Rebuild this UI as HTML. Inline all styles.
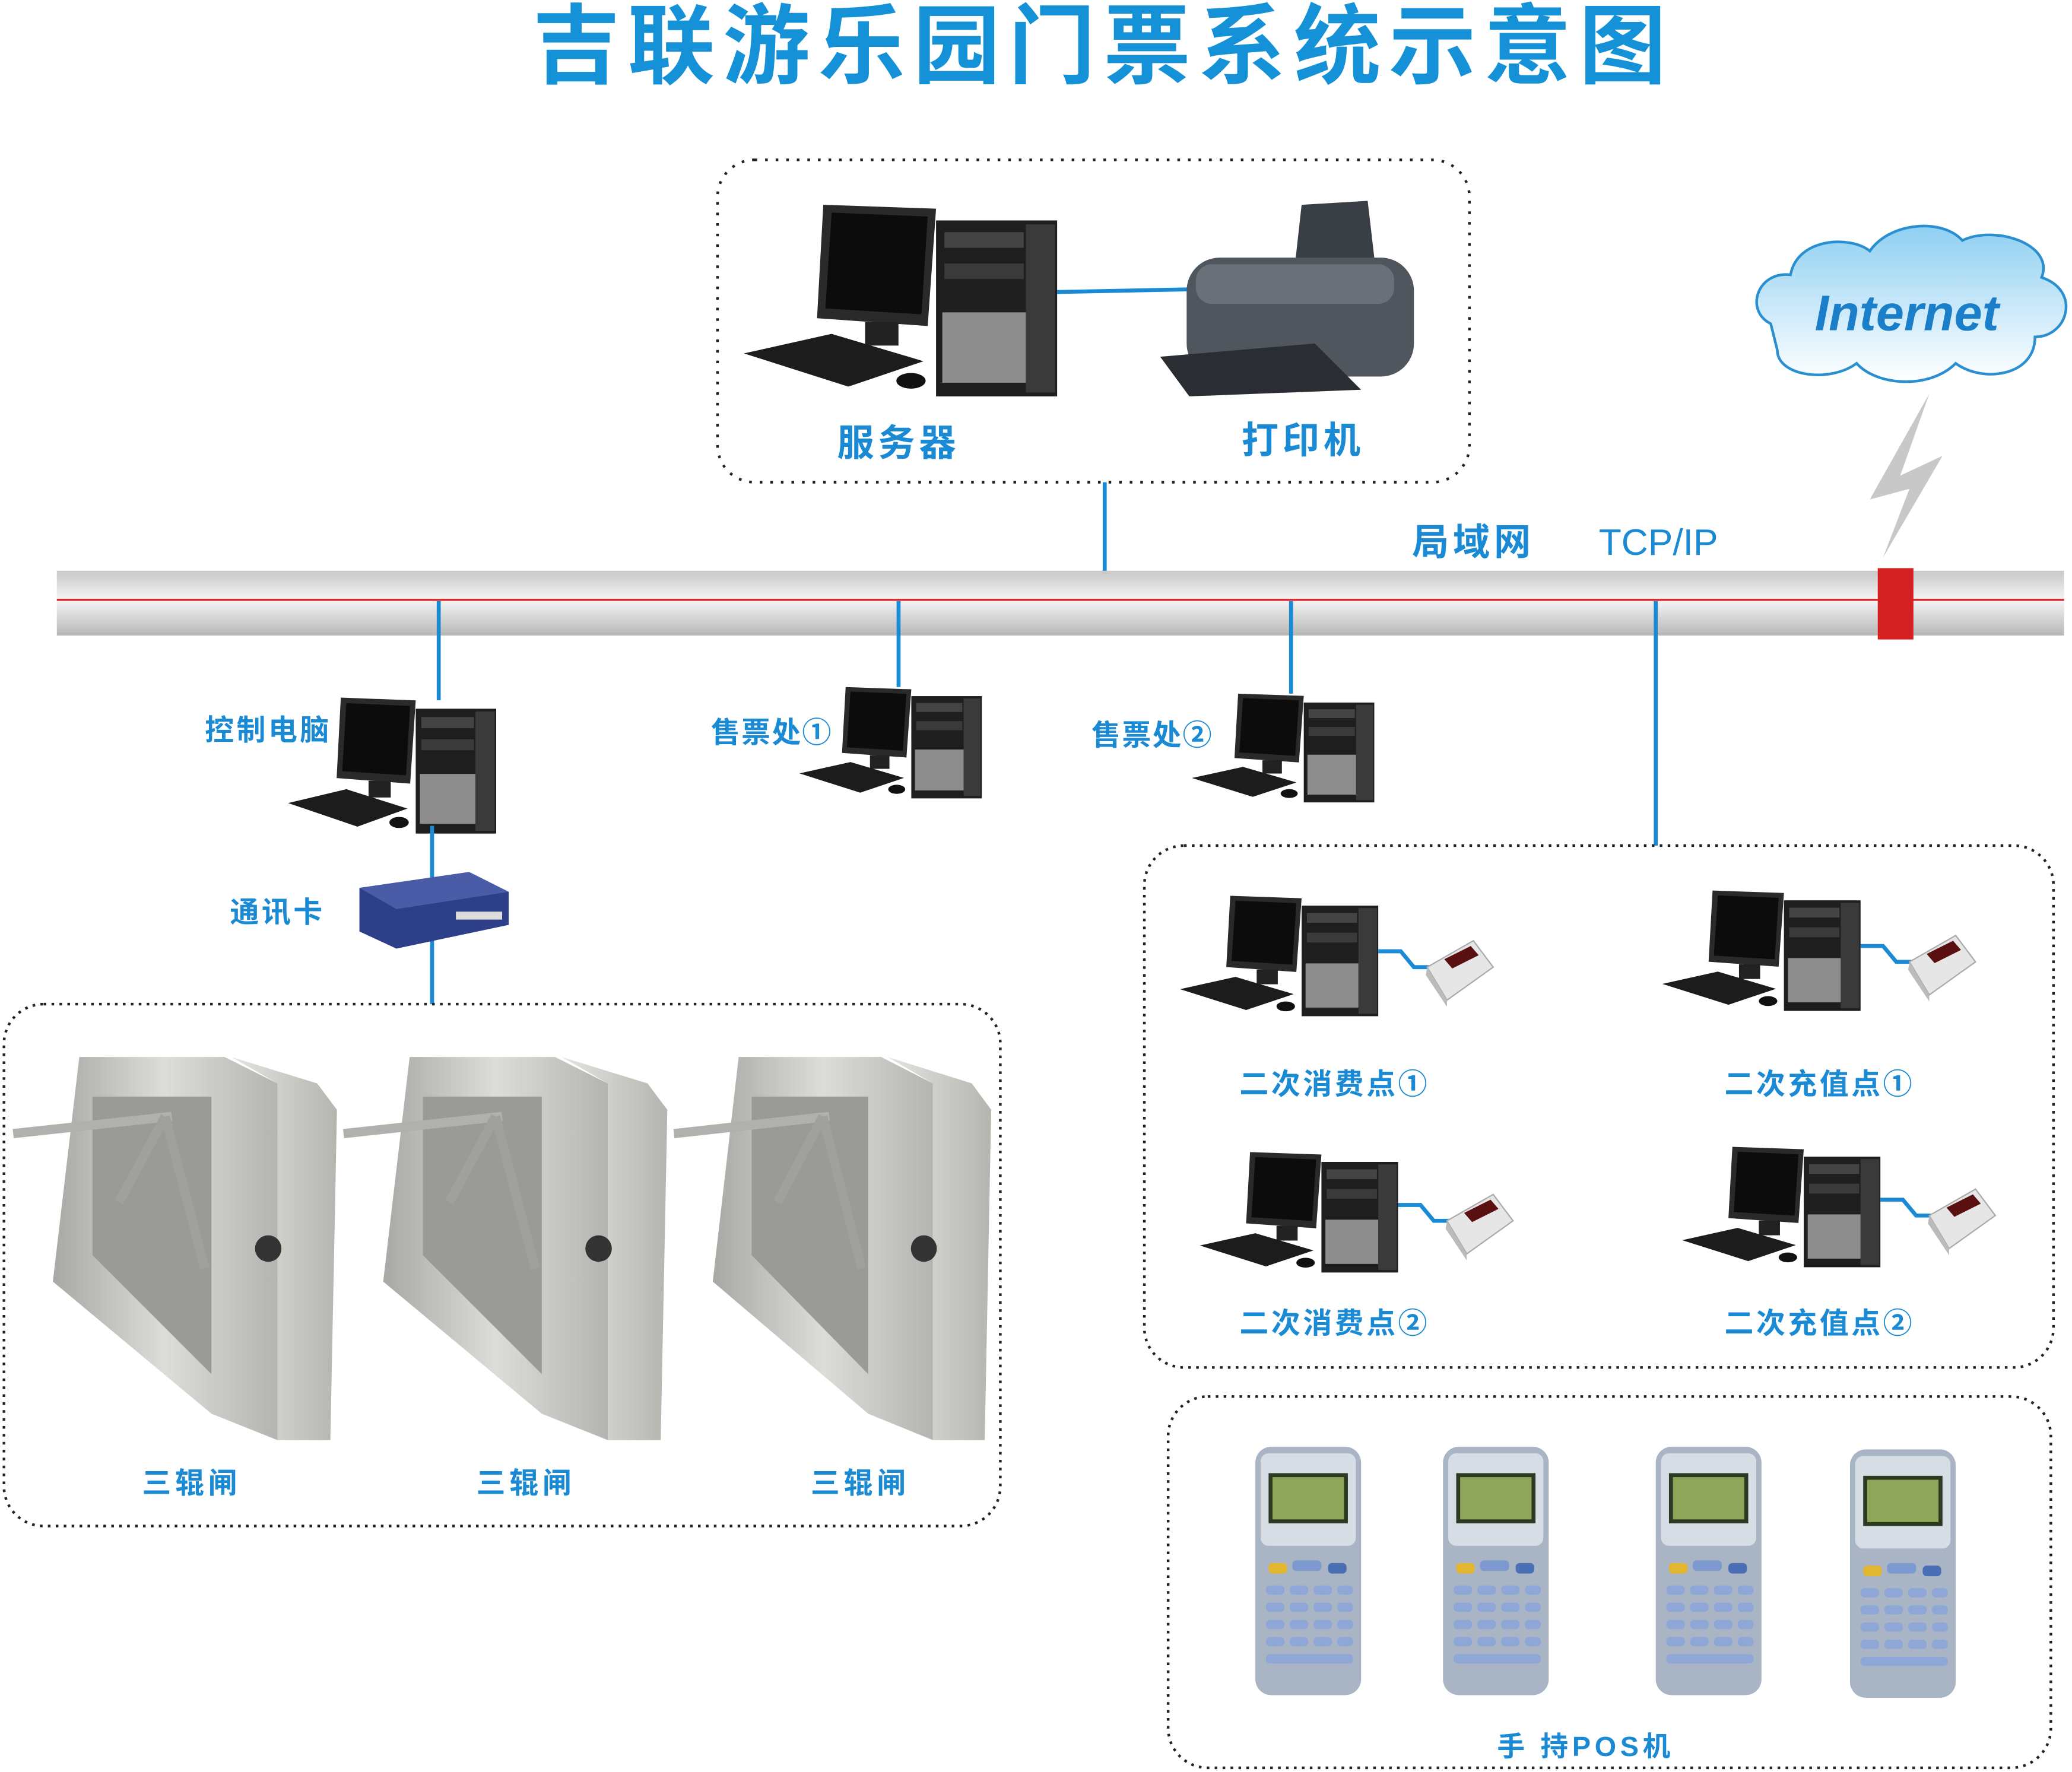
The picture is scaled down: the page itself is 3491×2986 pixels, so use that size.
<!DOCTYPE html>
<html><head><meta charset="utf-8"><style>
html,body{margin:0;padding:0;background:#fff}
svg{display:block}
text{font-family:"Liberation Sans","Noto Sans CJK SC",sans-serif;font-weight:bold;fill:#1a8ad4}
</style></head><body>
<svg width="3491" height="2986" viewBox="0 0 3491 2986" xmlns="http://www.w3.org/2000/svg">
<defs>
<linearGradient id="bus" x1="0" y1="0" x2="0" y2="1"><stop offset="0" stop-color="#c8c8c8"/><stop offset="0.45" stop-color="#f4f4f4"/><stop offset="1" stop-color="#b8b8b8"/></linearGradient>
<linearGradient id="steel" x1="0" y1="0" x2="1" y2="0"><stop offset="0" stop-color="#a8a8a4"/><stop offset="0.5" stop-color="#dcdcd8"/><stop offset="1" stop-color="#b4b4b0"/></linearGradient>
<linearGradient id="steel2" x1="0" y1="0" x2="1" y2="0"><stop offset="0" stop-color="#e4e4e0"/><stop offset="1" stop-color="#b5b5b0"/></linearGradient>
<linearGradient id="cloud" x1="0" y1="0" x2="0" y2="1"><stop offset="0" stop-color="#8fd0f2"/><stop offset="1" stop-color="#ffffff"/></linearGradient>
<g id="pc">
<polygon points="38,0 92,2 88,62 35,58" fill="#2a2a2a"/>
<polygon points="42,4 88,6 85,56 39,53" fill="#0c0c0c"/>
<rect x="58" y="60" width="16" height="12" fill="#222"/>
<polygon points="0,76 42,66 86,80 50,93" fill="#1c1c1c"/>
<ellipse cx="80" cy="90" rx="7" ry="4" fill="#111"/>
<rect x="92" y="8" width="58" height="90" fill="#1e1e1e"/>
<rect x="96" y="14" width="38" height="8" fill="#444"/>
<rect x="96" y="30" width="38" height="8" fill="#3a3a3a"/>
<rect x="95" y="55" width="40" height="36" fill="#8d8d8d"/>
<rect x="135" y="10" width="14" height="86" fill="#3a3a3a"/>
</g>
<g id="reader">
<polygon points="5,20 40,0 55,20 20,45" fill="#e6e6e6" stroke="#aaa"/>
<polygon points="18,14 38,4 44,11 24,21" fill="#5a1010"/>
<polygon points="5,20 20,45 20,50 4,26" fill="#bbb"/>
</g>
<g id="gate">
<polygon points="50,0 160,0 200,20 200,290 150,270 30,170 50,0" fill="url(#steel)"/>
<polygon points="165,0 230,20 245,40 240,290 200,290 200,20" fill="url(#steel2)"/>
<polygon points="60,30 150,30 150,240 60,150" fill="#9a9a96"/>
<line x1="0" y1="58" x2="120" y2="45" stroke="#b0b0ac" stroke-width="7"/>
<line x1="115" y1="45" x2="80" y2="110" stroke="#a0a09c" stroke-width="7"/>
<line x1="115" y1="45" x2="145" y2="160" stroke="#a0a09c" stroke-width="7"/>
<circle cx="193" cy="145" r="10" fill="#333"/>
</g>
<g id="pos">
<rect x="0" y="0" width="80" height="188" rx="12" fill="#a9b5c4"/>
<rect x="4" y="5" width="72" height="70" rx="6" fill="#d7dde4"/>
<rect x="10" y="20" width="60" height="38" fill="#2d3a22"/>
<rect x="13" y="23" width="54" height="32" fill="#8ea65a"/>
<rect x="10" y="88" width="14" height="8" rx="3" fill="#e2b630"/>
<rect x="28" y="86" width="22" height="8" rx="3" fill="#7c9ad0"/>
<rect x="55" y="88" width="14" height="8" rx="3" fill="#4a6fb5"/>
<g fill="#8fa7d6">
<rect x="8" y="105" width="14" height="7" rx="3"/><rect x="26" y="105" width="14" height="7" rx="3"/><rect x="44" y="105" width="14" height="7" rx="3"/><rect x="62" y="105" width="12" height="7" rx="3"/>
<rect x="8" y="118" width="14" height="7" rx="3"/><rect x="26" y="118" width="14" height="7" rx="3"/><rect x="44" y="118" width="14" height="7" rx="3"/><rect x="62" y="118" width="12" height="7" rx="3"/>
<rect x="8" y="131" width="14" height="7" rx="3"/><rect x="26" y="131" width="14" height="7" rx="3"/><rect x="44" y="131" width="14" height="7" rx="3"/><rect x="62" y="131" width="12" height="7" rx="3"/>
<rect x="8" y="144" width="14" height="7" rx="3"/><rect x="26" y="144" width="14" height="7" rx="3"/><rect x="44" y="144" width="14" height="7" rx="3"/><rect x="62" y="144" width="12" height="7" rx="3"/>
<rect x="8" y="157" width="66" height="7" rx="3"/>
</g>
</g>
</defs>
<g transform="scale(2.2264)">
<text x="835" y="58" font-size="66" text-anchor="middle" font-weight="900" letter-spacing="6" style="fill:#1591d8">吉联游乐园门票系统示意图</text>

<rect x="543" y="121" width="569" height="244" rx="28" fill="none" stroke="#222" stroke-width="2" stroke-dasharray="2,6"/>
<use href="#pc" transform="translate(563,155) scale(1.58,1.48)"/>
<line x1="800" y1="221" x2="900" y2="219" stroke="#1a8ad4" stroke-width="3"/>
<polygon points="985,155 1035,152 1040,195 980,200" fill="#3a3f45"/>
<rect x="898" y="195" width="172" height="90" rx="25" fill="#50565d"/>
<rect x="905" y="200" width="150" height="30" rx="12" fill="#6a7078"/>
<polygon points="878,270 995,260 1030,295 900,300" fill="#2a2e33"/>
<text x="680" y="345" font-size="28" text-anchor="middle" letter-spacing="3">服务器</text>
<text x="986" y="343" font-size="28" text-anchor="middle" letter-spacing="3">打印机</text>
<line x1="836" y1="365" x2="836" y2="455" stroke="#1a8ad4" stroke-width="3"/>

<rect x="43" y="432" width="1519" height="49" fill="url(#bus)"/>
<line x1="43" y1="454" x2="1562" y2="454" stroke="#e02020" stroke-width="1.5"/>
<rect x="1421" y="430" width="27" height="54" fill="#d42020"/>
<text x="1115" y="420" font-size="28" text-anchor="middle" letter-spacing="3">局域网</text>
<text x="1255" y="420" font-size="28" text-anchor="middle" style="font-weight:normal">TCP/IP</text>

<path d="M1340,245 C1320,235 1330,205 1355,208 C1360,180 1400,178 1415,190 C1430,168 1470,165 1485,182 C1510,170 1555,185 1545,210 C1575,220 1565,255 1540,255 C1540,285 1500,290 1480,275 C1460,295 1420,292 1405,275 C1385,290 1345,285 1345,265 Z" fill="url(#cloud)" stroke="#2a8fd0" stroke-width="2"/>
<text x="1443" y="250" font-size="38" text-anchor="middle" font-style="italic" font-weight="900" style="fill:#1a7fc8">Internet</text>
<polygon points="1460,298 1438,360 1470,345 1425,422 1445,370 1415,378" fill="#c8c8c8"/>

<line x1="332" y1="455" x2="332" y2="530" stroke="#1a8ad4" stroke-width="3"/>
<line x1="680" y1="455" x2="680" y2="520" stroke="#1a8ad4" stroke-width="3"/>
<line x1="977" y1="455" x2="977" y2="525" stroke="#1a8ad4" stroke-width="3"/>
<line x1="1253" y1="455" x2="1253" y2="640" stroke="#1a8ad4" stroke-width="3"/>

<use href="#pc" transform="translate(218,528) scale(1.05)"/>
<text x="203" y="560" font-size="22" text-anchor="middle" letter-spacing="2">控制电脑</text>
<use href="#pc" transform="translate(605,520) scale(0.92,0.86)"/>
<text x="584" y="562" font-size="22" text-anchor="middle" letter-spacing="1">售票处①</text>
<use href="#pc" transform="translate(902,525) scale(0.92,0.84)"/>
<text x="872" y="564" font-size="22" text-anchor="middle" letter-spacing="1">售票处②</text>

<line x1="327" y1="625" x2="327" y2="760" stroke="#1a8ad4" stroke-width="3"/>
<polygon points="272,672 355,660 385,675 385,700 300,718 272,705" fill="#2e3f8a"/>
<polygon points="272,672 355,660 385,675 300,688" fill="#4a5ca8"/>
<rect x="345" y="690" width="35" height="6" fill="#ddd"/>
<text x="210" y="698" font-size="22" text-anchor="middle" letter-spacing="2">通讯卡</text>

<rect x="3" y="760" width="754" height="395" rx="30" fill="none" stroke="#222" stroke-width="2" stroke-dasharray="2,4"/>
<use href="#gate" transform="translate(10,800)"/>
<use href="#gate" transform="translate(260,800) scale(1,1)"/>
<use href="#gate" transform="translate(510,800) scale(0.98,1)"/>
<text x="145" y="1130" font-size="22" text-anchor="middle" letter-spacing="3">三辊闸</text>
<text x="398" y="1130" font-size="22" text-anchor="middle" letter-spacing="3">三辊闸</text>
<text x="651" y="1130" font-size="22" text-anchor="middle" letter-spacing="3">三辊闸</text>

<rect x="866" y="640" width="688" height="395" rx="30" fill="none" stroke="#222" stroke-width="2" stroke-dasharray="2,4"/>
<use href="#pc" transform="translate(893,678) scale(1,0.93)"/>
<polyline points="1043,720 1060,720 1070,732 1085,732" fill="none" stroke="#1a8ad4" stroke-width="3"/>
<use href="#reader" transform="translate(1075,712)"/>
<text x="1010" y="828" font-size="22" text-anchor="middle" letter-spacing="2">二次消费点①</text>
<use href="#pc" transform="translate(1258,674) scale(1,0.93)"/>
<polyline points="1408,716 1425,716 1435,728 1450,728" fill="none" stroke="#1a8ad4" stroke-width="3"/>
<use href="#reader" transform="translate(1440,708)"/>
<text x="1377" y="828" font-size="22" text-anchor="middle" letter-spacing="2">二次充值点①</text>
<use href="#pc" transform="translate(908,872) scale(1,0.93)"/>
<polyline points="1058,912 1075,912 1085,924 1100,924" fill="none" stroke="#1a8ad4" stroke-width="3"/>
<use href="#reader" transform="translate(1090,904)"/>
<text x="1010" y="1009" font-size="22" text-anchor="middle" letter-spacing="2">二次消费点②</text>
<use href="#pc" transform="translate(1273,868) scale(1,0.93)"/>
<polyline points="1423,908 1440,908 1450,920 1465,920" fill="none" stroke="#1a8ad4" stroke-width="3"/>
<use href="#reader" transform="translate(1455,900)"/>
<text x="1377" y="1009" font-size="22" text-anchor="middle" letter-spacing="2">二次充值点②</text>

<rect x="884" y="1057" width="668" height="281" rx="30" fill="none" stroke="#222" stroke-width="2" stroke-dasharray="2,4"/>
<use href="#pos" transform="translate(950,1095)"/>
<use href="#pos" transform="translate(1092,1095)"/>
<use href="#pos" transform="translate(1253,1095)"/>
<use href="#pos" transform="translate(1400,1097)"/>
<text x="1200" y="1329" font-size="21" text-anchor="middle" letter-spacing="3">手 持POS机</text>
</g>
</svg>
</body></html>
